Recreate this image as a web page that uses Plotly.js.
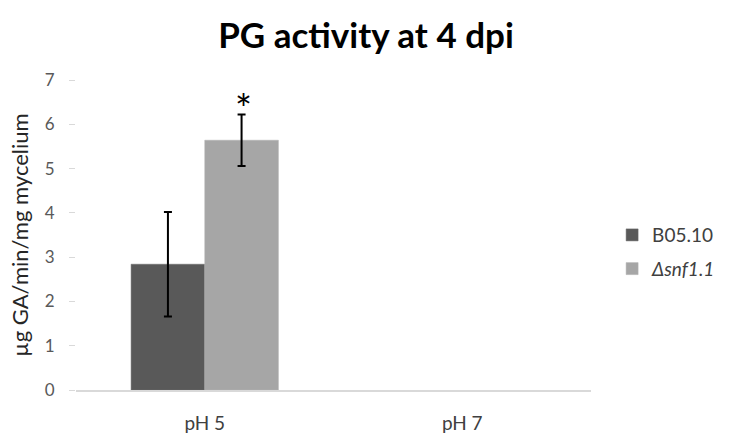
<!DOCTYPE html>
<html>
<head>
<meta charset="utf-8">
<script src="https://cdn.plot.ly/plotly-3.0.1.min.js"></script>
<style>html,body{margin:0;padding:0;background:#fff;}#chart{width:733px;height:434px;}</style>
</head>
<body>
<div id="chart"></div>
<script>
const categories = ['pH 5', 'pH 7'];
const seriesNames = ['B05.10', '<i>Δsnf1.1</i>'];
const wildType = [2.84, null];
const wildTypeErr = [1.18, null];
const mutant = [5.64, null];
const mutantErr = [0.58, null];
const yTickVals = [0, 1, 2, 3, 4, 5, 6, 7];
const sigMark = {category: 'pH 5', y: 6.57, text: '*'};

const font = 'Lato, "Open Sans", sans-serif';

const traces = [
  {
    type: 'bar', x: categories, y: wildType, name: seriesNames[0], legendgroup: 'a',
    marker: {color: '#595959', line: {color: '#6a6a6a', width: 0.5}},
    error_y: {type: 'data', array: wildTypeErr, visible: true, color: '#000', thickness: 2, width: 4}
  },
  {
    type: 'bar', x: categories, y: mutant, name: seriesNames[1], legendgroup: 'b',
    marker: {color: '#a6a6a6', line: {color: '#b0b0b0', width: 0.5}},
    error_y: {type: 'data', array: mutantErr, visible: true, color: '#000', thickness: 2, width: 4}
  }
];

const layout = {
  width: 733, height: 434,
  margin: {l: 76, r: 136, t: 80, b: 44},
  paper_bgcolor: '#fff', plot_bgcolor: '#fff',
  barmode: 'group', bargap: 0.428, bargroupgap: 0,
  showlegend: true,
  title: {text: '<b>PG activity at 4 dpi</b>', x: 0.4993, xref: 'container', xanchor: 'center',
          y: 0.918, yref: 'container', yanchor: 'middle',
          font: {family: font, size: 35, color: '#000'}},
  xaxis: {
    showline: true, linecolor: '#d9d9d9', linewidth: 1.5, ticks: '', showgrid: false, zeroline: false,
    tickfont: {family: font, size: 19, color: '#404040'}, ticklabelstandoff: 16, fixedrange: true
  },
  yaxis: {
    range: [0, 7], tickvals: yTickVals, showline: false, showgrid: false, zeroline: false,
    ticks: 'outside', ticklen: 6, tickcolor: '#d9d9d9', tickwidth: 1,
    tickfont: {family: font, size: 17, color: '#595959'}, ticklabelstandoff: 11,
    title: {text: 'µg GA/min/mg mycelium', font: {family: font, size: 22, color: '#262626'}, standoff: 10}
  },
  legend: {
    x: 1.041, xanchor: 'left', y: 0.445, yanchor: 'middle', tracegroupgap: 6,
    font: {family: font, size: 19, color: '#404040'}, bgcolor: 'rgba(0,0,0,0)'
  },
  annotations: [{
    x: sigMark.category, y: sigMark.y, xref: 'x', yref: 'y', text: sigMark.text, showarrow: false,
    xshift: 39, yshift: -10, font: {family: font, size: 40, color: '#000'}
  }]
};

Plotly.newPlot('chart', traces, layout, {displayModeBar: false, staticPlot: true});
</script>
</body>
</html>
